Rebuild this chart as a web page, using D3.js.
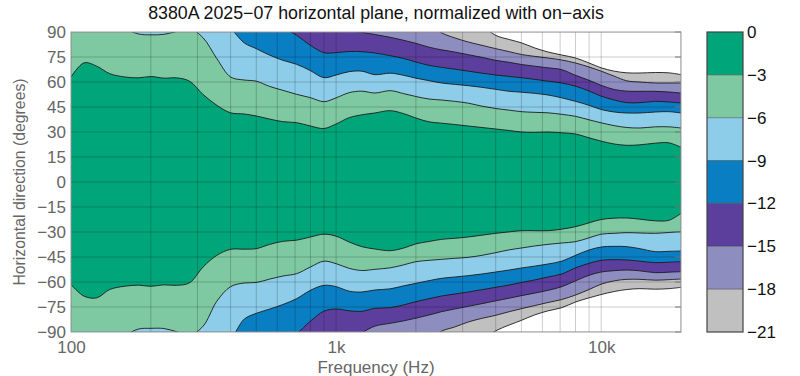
<!DOCTYPE html>
<html>
<head>
<meta charset="utf-8">
<script src="https://cdnjs.cloudflare.com/ajax/libs/d3/7.8.5/d3.min.js"></script>
<style>
	html, body { margin: 0; padding: 0; background: #fff; }
	svg text { font-family: "Liberation Sans", Arial, Helvetica, sans-serif; }
</style>
</head>
<body>
<div id="chart"></div>
<script>
// frequency points (Hz), 1/6 octave
const freqs = [100, 112, 125, 140, 160, 180, 200, 224, 250, 280, 315, 355, 400, 450, 500, 560, 630, 710, 800, 900,
	1000, 1120, 1250, 1400, 1600, 1800, 2000, 2240, 2500, 2800, 3150, 3550, 4000, 4500, 5000, 5600, 6300, 7100, 8000, 9000,
	10000, 11200, 12500, 14000, 16000, 18000, 20000];

// angle (deg) where the level crosses each contour, upper and lower side; |100| = never crosses
const upper3 = [63, 71.5, 69.5, 65, 63, 62.5, 63.3, 62.3, 62.5, 60.5, 52.5, 46, 41.5, 40.8, 39.6, 37.8, 36.2, 35.6, 33.6, 32.1,
	34.8, 38.6, 40.3, 41.4, 42.8, 41, 38.4, 36.1, 35.3, 34.5, 33.6, 32.7, 31.8, 30.9, 30, 29.8, 30, 29.5, 28.8, 26.5,
	24.5, 22.8, 22, 22.3, 23.3, 23.5, 20.8];
const lower3 = [-61.5, -68.5, -69.5, -64.5, -62.5, -61.9, -62.6, -61.7, -62, -60.5, -51, -44, -40.4, -40.3, -40, -37.5, -35.6, -34.9, -33, -31.3,
	-32.5, -36, -38.8, -40.2, -41.2, -39.6, -37.1, -35.7, -34.4, -33.8, -33, -31.9, -30.8, -29.9, -29.2, -29.2, -29.2, -28.3, -26.8, -24.5,
	-22.5, -21.7, -21.6, -22.3, -23.3, -23, -18.8];
const upper6 = [100, 100, 100, 97, 92, 88.8, 88.3, 88.6, 90.3, 92, 86.5, 74, 63, 61.2, 60.5, 57.4, 55, 52.6, 50.6, 48.2,
	50.5, 53.6, 54.5, 53.4, 54.8, 53, 51.3, 49.8, 49.2, 48.4, 47.3, 45.5, 44.1, 43.1, 42.2, 41.8, 41.5, 40.6, 39.4, 37.3,
	35.5, 33.8, 32.7, 32.4, 33.1, 33.1, 32.4];
const lower6 = [-100, -100, -100, -97, -92, -88.2, -87.8, -87.9, -89.8, -92, -86.5, -71.5, -62.8, -60.6, -60.3, -58.3, -56.4, -55, -51, -47.5,
	-49, -51.8, -53.1, -52.4, -51.5, -49.7, -47.8, -47, -46.4, -45.8, -45.2, -44, -42.4, -40.7, -39.6, -38.4, -37.4, -36.6, -35.8, -33.5,
	-31.3, -30.8, -30.4, -30.6, -30.8, -30.3, -29.8];
const upper9 = [100, 100, 100, 100, 100, 100, 100, 100, 100, 100, 100, 97, 92, 83.5, 80, 76.2, 73, 70.6, 66.8, 62.6,
	64.2, 66.2, 66.5, 64.4, 65.3, 64, 62.3, 60.8, 59.4, 58.6, 57.8, 56.8, 55.6, 54.4, 53.9, 53.2, 52.2, 50.5, 48.4, 46,
	43.5, 42, 41.4, 41.4, 42, 42.2, 41.4];
const lower9 = [-100, -100, -100, -100, -100, -100, -100, -100, -100, -100, -100, -98, -94, -82.3, -78.8, -76.3, -73.5, -70, -65, -62,
	-62.8, -65.5, -66, -64.8, -64.1, -62.3, -60.8, -59.2, -57.8, -57, -56.2, -55.2, -54, -52.8, -51.6, -50.5, -49.2, -47.5, -44, -40.8,
	-39, -38.6, -38.8, -40, -41.8, -41.6, -41.4];
const upper12 = [100, 100, 100, 100, 100, 100, 100, 100, 100, 100, 100, 100, 100, 100, 100, 100, 93, 88, 82, 77.6,
	77.6, 78.3, 78.2, 77.4, 75.8, 74.1, 72, 70, 68.8, 67.7, 66.5, 65.3, 64.2, 63.3, 62.6, 61.6, 60.5, 59.4, 57.5, 54.6,
	51.5, 49.2, 47.6, 47.6, 48.4, 48, 47.4];
const lower12 = [-100, -100, -100, -100, -100, -100, -100, -100, -100, -100, -100, -100, -100, -100, -100, -100, -96, -91, -83.5, -77.5,
	-76.2, -77.3, -77.6, -75.8, -75.4, -73.7, -71.8, -70, -68.4, -67.2, -66, -64.6, -63.2, -61.8, -60.3, -58.8, -57, -55.2, -51.5, -48.8,
	-47, -46.6, -46.8, -47.5, -48.4, -48.1, -47.8];
const upper15 = [100, 100, 100, 100, 100, 100, 100, 100, 100, 100, 100, 100, 100, 100, 100, 100, 100, 100, 100, 100,
	95, 91, 89.8, 88.5, 86.8, 85, 83.2, 80.9, 79.3, 78, 76.4, 74.8, 73, 71.8, 70.5, 69.5, 68.5, 67.4, 64, 61,
	58, 55.5, 54.5, 54.4, 54.4, 54, 53.4];
const lower15 = [-100, -100, -100, -100, -100, -100, -100, -100, -100, -100, -100, -100, -100, -100, -100, -100, -100, -100, -100, -100,
	-100, -95, -90.5, -86.5, -84.8, -83.3, -81.7, -79.8, -77.8, -76.2, -74.6, -73, -71.3, -69.7, -68.2, -66.7, -65, -62.8, -59.3, -56,
	-54, -53.2, -52.8, -53.3, -54.4, -54.1, -53.8];
const upper18 = [100, 100, 100, 100, 100, 100, 100, 100, 100, 100, 100, 100, 100, 100, 100, 100, 100, 100, 100, 100,
	100, 100, 100, 100, 100, 100, 100, 95, 89.5, 86.5, 84, 82, 80, 78.2, 76.5, 75.4, 74.4, 73.2, 71.4, 69,
	66.5, 63.5, 60.7, 60, 59.4, 59.4, 59.4];
const lower18 = [-100, -100, -100, -100, -100, -100, -100, -100, -100, -100, -100, -100, -100, -100, -100, -100, -100, -100, -100, -100,
	-100, -100, -100, -100, -100, -100, -100, -95, -89.5, -87, -84, -81.8, -80, -77.8, -76, -74.2, -72.3, -70.5, -67.8, -64.5,
	-61.3, -59.3, -58.4, -58.4, -58.9, -58.6, -58.2];
const upper21 = [100, 100, 100, 100, 100, 100, 100, 100, 100, 100, 100, 100, 100, 100, 100, 100, 100, 100, 100, 100,
	100, 100, 100, 100, 100, 100, 100, 100, 100, 100, 100, 94, 88, 85.5, 83.5, 80.5, 78, 76.2, 74.4, 71.4,
	68.5, 66.5, 65.5, 65.4, 65.7, 65.5, 64.4];
const lower21 = [-100, -100, -100, -100, -100, -100, -100, -100, -100, -100, -100, -100, -100, -100, -100, -100, -100, -100, -100, -100,
	-100, -100, -100, -100, -100, -100, -100, -100, -100, -100, -100, -95, -89.3, -85.8, -83, -79.8, -77.3, -75.4, -72, -69.5,
	-67.5, -65.7, -64.5, -64, -64.3, -64, -63.2];

const levels		= [0, -3, -6, -9, -12, -15, -18, -21];
const palette		= ["#00a579", "#7ec9a1", "#8ecdea", "#0a7ec2", "#5c3e9c", "#8e8dc0", "#c0c0c0"];
const yTicks		= [90, 75, 60, 45, 30, 15, 0, -15, -30, -45, -60, -75, -90];
const xTicks		= [100, 1000, 10000];
const xTickLabels	= ["100", "1k", "10k"];
const gridFreqs		= [100, 200, 300, 400, 500, 600, 700, 800, 900, 1000, 2000, 3000, 4000, 5000, 6000, 7000, 8000, 9000, 10000, 20000];

const uppers = [upper3, upper6, upper9, upper12, upper15, upper18, upper21];
const lowers = [lower3, lower6, lower9, lower12, lower15, lower18, lower21];

const minus = (d) => (d < 0 ? "\u2212" + Math.abs(d) : String(d));

let canvasWidth		= 800;
let canvasHeight	= 376;
let margin			= { top: 32, right: 119, bottom: 44, left: 71 };
let width			= canvasWidth - margin.left - margin.right;
let height			= canvasHeight - margin.top - margin.bottom;

let x = d3.scaleLog().domain([100, 20000]).range([0, width]);
let y = d3.scaleLinear().domain([-90, 90]).range([height, 0]);

let svg = d3.select("#chart").append("svg")
	.attr("width", canvasWidth)
	.attr("height", canvasHeight);

svg.append("text")
	.attr("x", margin.left + width / 2)
	.attr("y", 19)
	.attr("text-anchor", "middle")
	.attr("font-size", 17.8)
	.attr("fill", "#111")
	.text("8380A 2025\u221207 horizontal plane, normalized with on\u2212axis");

let g = svg.append("g").attr("transform", "translate(" + margin.left + "," + margin.top + ")");

g.append("clipPath").attr("id", "plotclip")
	.append("rect").attr("width", width).attr("height", height);

let plot = g.append("g").attr("clip-path", "url(#plotclip)");
plot.append("rect").attr("width", width).attr("height", height).attr("fill", "#fff");

let curve = d3.curveCatmullRom.alpha(0.5);

// fill from the outer band (-18..-21) inwards
for (let k = uppers.length - 1; k >= 0; k--) {
	let up = uppers[k], lo = lowers[k];
	plot.append("path")
		.datum(freqs)
		.attr("fill", palette[k])
		.attr("d", d3.area()
			.x((d) => x(d))
			.y0((d, i) => y(up[i]))
			.y1((d, i) => y(lo[i]))
			.curve(curve));
}

// contour lines
uppers.concat(lowers).forEach((arr) => {
	plot.append("path")
		.datum(freqs)
		.attr("fill", "none")
		.attr("stroke", "#1c1c1c")
		.attr("stroke-width", 0.9)
		.attr("d", d3.line().x((d) => x(d)).y((d, i) => y(arr[i])).curve(curve));
});

// grid on top
plot.append("g")
	.selectAll("line.v")
	.data(gridFreqs).enter()
	.append("line")
		.attr("x1", (d) => x(d)).attr("x2", (d) => x(d))
		.attr("y1", 0).attr("y2", height)
		.attr("stroke", "#000").attr("stroke-opacity", 0.2).attr("stroke-width", 1);

plot.append("g")
	.selectAll("line.h")
	.data(yTicks).enter()
	.append("line")
		.attr("x1", 0).attr("x2", width)
		.attr("y1", (d) => y(d)).attr("y2", (d) => y(d))
		.attr("stroke", "#000").attr("stroke-opacity", 0.2).attr("stroke-width", 1);

// inner tick marks on the right edge
g.append("g")
	.selectAll("line")
	.data(yTicks).enter()
	.append("line")
		.attr("x1", width - 6).attr("x2", width)
		.attr("y1", (d) => y(d)).attr("y2", (d) => y(d))
		.attr("stroke", "#777").attr("stroke-width", 1);

g.append("rect")
	.attr("width", width).attr("height", height)
	.attr("fill", "none").attr("stroke", "#999").attr("stroke-width", 1);

// axes
let yAxis = g.append("g")
	.call(d3.axisLeft(y).tickValues(yTicks).tickFormat(minus).tickSize(0).tickPadding(5));
yAxis.select(".domain").remove();
yAxis.selectAll("text").attr("font-size", 17).attr("fill", "#666").attr("font-family", null);

let xAxis = g.append("g")
	.attr("transform", "translate(0," + height + ")")
	.call(d3.axisBottom(x).tickValues(xTicks).tickFormat((d, i) => xTickLabels[i]).tickSize(0).tickPadding(9));
xAxis.select(".domain").remove();
xAxis.selectAll("text").attr("font-size", 17).attr("fill", "#666").attr("font-family", null);

svg.append("text")
	.attr("x", margin.left + width / 2)
	.attr("y", 372.5)
	.attr("text-anchor", "middle")
	.attr("font-size", 17)
	.attr("fill", "#666")
	.text("Frequency (Hz)");

svg.append("text")
	.attr("transform", "translate(25," + (margin.top + height / 2) + ") rotate(-90)")
	.attr("text-anchor", "middle")
	.attr("font-size", 15.8)
	.attr("fill", "#666")
	.text("Horizontal direction (degrees)");

// colour bar
let cb = svg.append("g").attr("transform", "translate(707," + margin.top + ")");
let cbW = 36;
let cy = d3.scaleLinear().domain([0, -21]).range([0, height]);

cb.selectAll("rect.band")
	.data(palette).enter()
	.append("rect")
		.attr("x", 0)
		.attr("y", (d, i) => cy(levels[i]))
		.attr("width", cbW)
		.attr("height", (d, i) => cy(levels[i + 1]) - cy(levels[i]))
		.attr("fill", (d) => d);

cb.selectAll("line.sep")
	.data(levels.slice(1, -1)).enter()
	.append("line")
		.attr("x1", 0).attr("x2", cbW)
		.attr("y1", (d) => cy(d)).attr("y2", (d) => cy(d))
		.attr("stroke", "#333").attr("stroke-opacity", 0.5).attr("stroke-width", 1);

cb.append("rect")
	.attr("width", cbW).attr("height", height)
	.attr("fill", "none").attr("stroke", "#444").attr("stroke-width", 1.2);

cb.selectAll("text")
	.data(levels).enter()
	.append("text")
		.attr("x", cbW + 4)
		.attr("y", (d) => cy(d))
		.attr("dy", "0.35em")
		.attr("font-size", 17)
		.attr("fill", "#111")
		.text(minus);
</script>
</body>
</html>
